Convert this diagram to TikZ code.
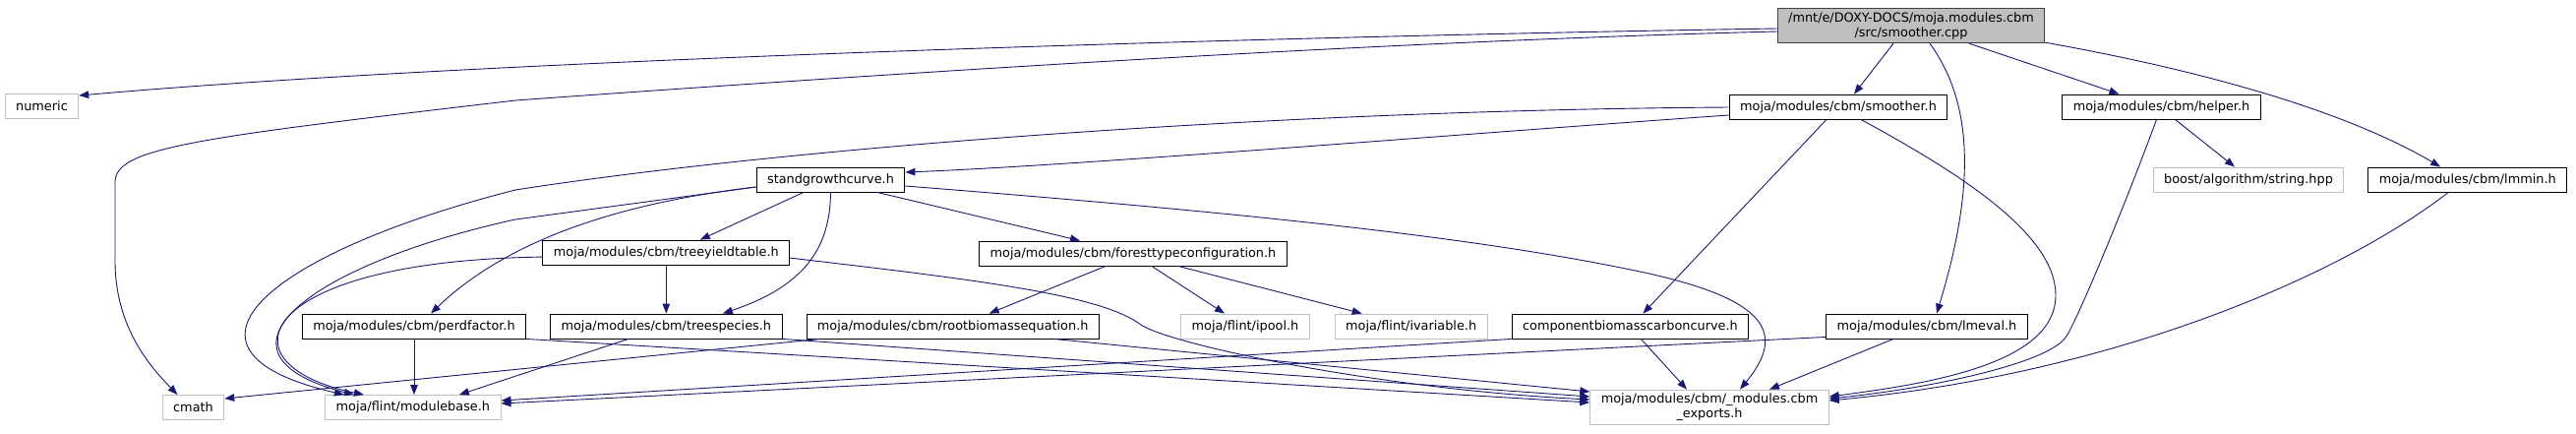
\documentclass[tikz,border=0pt]{standalone}
\usepackage{fontspec}
\setmainfont{DejaVu Sans}
\usepackage{tikz}
\usetikzlibrary{arrows.meta, positioning}

\definecolor{edgeblue}{HTML}{191970}
\definecolor{nodegray}{HTML}{BFBFBF}
\definecolor{rootline}{HTML}{404040}

\begin{document}
\begin{tikzpicture}[
    x=1pt, y=-1pt,
    node distance=24pt,
    box/.style={draw, rectangle, minimum height=25pt, inner xsep=11pt, inner ysep=4pt, align=center, font=\fontsize{12.85}{15}\selectfont, line width=0.9pt},
    docbox/.style={box, draw=black, fill=white},
    extbox/.style={box, draw=nodegray, fill=white},
    srcbox/.style={box, draw=rootline, fill=nodegray},
    arrow/.style={-{Triangle[length=10pt, width=7.5pt]}, draw=edgeblue, line width=0.9pt},
]
\useasboundingbox (0,0) rectangle (2619,440);

% Source file
\node[srcbox] (src) at (1943,26) {/mnt/e/DOXY-DOCS/moja.modules.cbm\\/src/smoother.cpp};

% Second row
\node[extbox] (numeric) at (42.5,108) {numeric};
\node[docbox] (smoother) at (1869,108.5) {moja/modules/cbm/smoother.h};
\node[docbox, right=116pt of smoother] (helper) {moja/modules/cbm/helper.h};

% Third row
\node[docbox] (growth) at (844.5,182.5) {standgrowthcurve.h};
\node[extbox] (boost) at (2286,182.5) {boost/algorithm/string.hpp};
\node[docbox, right=of boost] (lmmin) {moja/modules/cbm/lmmin.h};

% Fourth and fifth rows
\node[docbox] (perdf) at (421,331.5) {moja/modules/cbm/perdfactor.h};
\node[docbox, right=of perdf] (species) {moja/modules/cbm/treespecies.h};
\node[docbox, right=of species] (rootbio) {moja/modules/cbm/rootbiomassequation.h};
\node[docbox, above=49pt of species] (yield) {moja/modules/cbm/treeyieldtable.h};
\node[docbox] (forest) at (1152,257.5) {moja/modules/cbm/foresttypeconfiguration.h};
\node[extbox] (ipool) at (1266,331.5) {moja/flint/ipool.h};
\node[extbox, right=25pt of ipool] (ivar) {moja/flint/ivariable.h};
\node[docbox, right=of ivar] (carbon) {componentbiomasscarboncurve.h};
\node[docbox] (lmeval) at (1959,331.5) {moja/modules/cbm/lmeval.h};

% Bottom row
\node[extbox] (cmath) at (196.5,414) {cmath};
\node[extbox, right=102pt of cmath] (modbase) {moja/flint/modulebase.h};
\node[extbox] (exports) at (1738,414) {moja/modules/cbm/\_modules.cbm\\\_exports.h};

% --- Includes of smoother.cpp ---
\draw[arrow] ([yshift=-3pt]src.west) .. controls (1300,37) and (500,60) .. ([yshift=-2pt]numeric.north east);
\draw[arrow] ([yshift=-6pt]src.west) .. controls (1400,42) and (900,75) .. (524,102) .. controls (200,140) and (117,150) .. (117,185) -- (117,265) .. controls (117,330) and (150,370) .. ([xshift=-16pt]cmath.north);
\draw[arrow] ([xshift=-18pt]src.south) -- ([xshift=16pt]smoother.north);
\draw[arrow] ([xshift=19pt]src.south) .. controls (2010,110) and (2005,200) .. ([xshift=10pt]lmeval.north);
\draw[arrow] ([xshift=59pt]src.south) -- ([xshift=-43pt]helper.north);
\draw[arrow] ([yshift=1pt]src.south east) .. controls (2230,70) and (2380,110) .. ([xshift=-27.5pt]lmmin.north);

% smoother.h
\draw[arrow] ([yshift=-8.5pt]smoother.west) .. controls (1500,135) and (1100,168) .. ([yshift=7.5pt]growth.east);
\draw[arrow] ([yshift=-0.5pt]smoother.west) .. controls (1300,112) and (800,150) .. (524,193) .. controls (280,255) and (150,355) .. ([xshift=-70pt]modbase.north);
\draw[arrow] ([xshift=-12pt]smoother.south) -- ([xshift=13pt]carbon.north);
\draw[arrow] ([xshift=23pt]smoother.south) .. controls (2000,180) and (2090,240) .. (2090,300) .. controls (2090,370) and (1960,390) .. ([yshift=11pt]exports.east);

% helper.h and lmmin.h
\draw[arrow] ([xshift=14pt]helper.south) -- ([xshift=-14pt]boost.north);
\draw[arrow] ([xshift=-5pt]helper.south) .. controls (2160,210) and (2110,330) .. (2100,343) .. controls (2080,370) and (1960,395) .. ([yshift=9pt]exports.east);
\draw[arrow] ([xshift=-19.5pt]lmmin.south) .. controls (2380,280) and (2150,380) .. ([yshift=7pt]exports.east);

% standgrowthcurve.h
\draw[arrow] ([xshift=-27.5pt]growth.south) -- ([xshift=34.5pt]yield.north);
\draw[arrow] (growth.south) .. controls (844,250) and (820,290) .. ([xshift=57.5pt]species.north);
\draw[arrow] ([xshift=47.5pt]growth.south) -- ([xshift=-54pt]forest.north);
\draw[arrow] ([yshift=-6.5pt]growth.east) .. controls (1250,215) and (1500,240) .. (1672,277) .. controls (1800,305) and (1815,340) .. ([xshift=31pt]exports.north);
\draw[arrow] ([yshift=-7.5pt]growth.west) .. controls (640,205) and (520,240) .. ([xshift=17pt]perdf.north);
\draw[arrow] ([yshift=-7.5pt]growth.west) -- (524,223) .. controls (310,270) and (200,360) .. ([xshift=-60pt]modbase.north);

% treeyieldtable.h
\draw[arrow] ([yshift=-4.5pt]yield.west) .. controls (260,265) and (220,370) .. ([xshift=-50pt]modbase.north);
\draw[arrow] (yield) -- (species);
\draw[arrow] ([yshift=-5.5pt]yield.east) .. controls (1000,285) and (1120,300) .. (1160,330) .. controls (1190,350) and (1400,395) .. ([yshift=8pt]exports.west);

% foresttypeconfiguration.h
\draw[arrow] ([xshift=-28pt]forest.south) -- ([xshift=37pt]rootbio.north);
\draw[arrow] ([xshift=19pt]forest.south) -- ([xshift=-21pt]ipool.north);
\draw[arrow] ([xshift=46pt]forest.south) -- ([xshift=-50pt]ivar.north);

% perdfactor.h and treespecies.h
\draw[arrow] (perdf.south) -- (perdf.south |- modbase.north);
\draw[arrow] (perdf.south east) -- ([yshift=5pt]exports.west);
\draw[arrow] ([xshift=-38.5pt]species.south) -- ([xshift=47pt]modbase.north);
\draw[arrow] (species.south east) -- ([yshift=11pt]exports.west);

% rootbiomassequation.h
\draw[arrow] ([xshift=14pt]rootbio.south west) -- ([yshift=9pt]cmath.east);
\draw[arrow] ([xshift=103pt]rootbio.south) -- ([yshift=16pt]exports.west);

% componentbiomasscarboncurve.h and lmeval.h
\draw[arrow] (carbon.south west) -- ([yshift=7pt]modbase.east);
\draw[arrow] ([xshift=11pt]carbon.south) -- ([xshift=-23pt]exports.north);
\draw[arrow] ([yshift=2pt]lmeval.south west) -- ([yshift=4pt]modbase.east);
\draw[arrow] ([xshift=-34pt]lmeval.south) -- ([xshift=61pt]exports.north);

\end{tikzpicture}
\end{document}
